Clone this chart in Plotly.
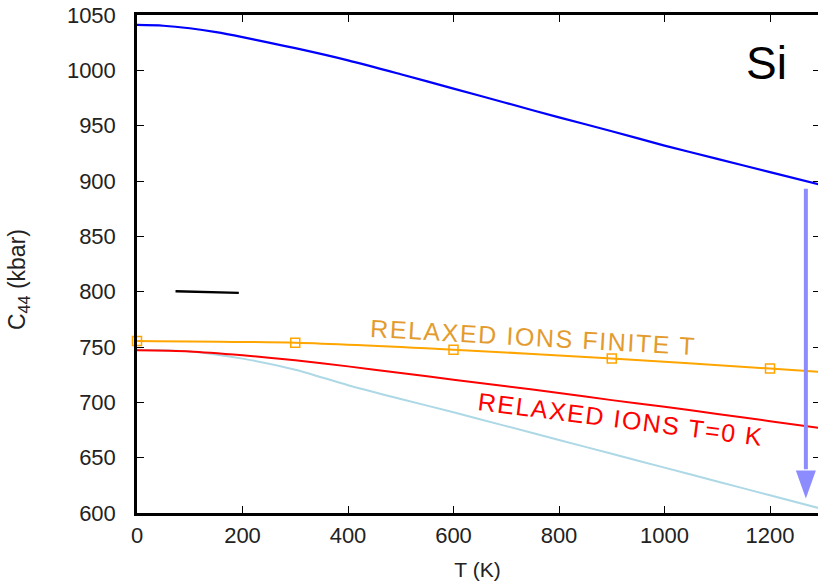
import plotly.graph_objects as go

# ---- data ----
T_blue = [0, 50, 100, 150, 200, 250, 300, 400, 500, 600, 700, 800, 900, 1000, 1100, 1200, 1300]
C44_blue = [1041, 1040.3, 1038, 1034.5, 1030, 1025, 1020, 1009, 996.5, 983.5, 970.5, 957.5, 945, 932, 920, 908, 896]

T_curve = [0, 100, 200, 300, 400, 500, 600, 700, 800, 900, 1000, 1100, 1200, 1300]
C44_red = [747, 746, 742.5, 738, 732.5, 726.5, 720.5, 714.5, 708.5, 702, 696, 689.5, 683, 676.5]
C44_lightblue = [747.5, 746, 739.5, 729.5, 715.5, 703, 691, 678.5, 666, 653.5, 641, 628.5, 616, 603.5]

T_orange = [0, 300, 600, 900, 1200, 1300]
C44_orange = [755.5, 753.8, 747.6, 739.6, 730.5, 727.4]
T_orange_pts = [0, 300, 600, 900, 1200]
C44_orange_pts = [755.5, 753.8, 747.6, 739.6, 730.5]

T_key = [73, 193]
C44_key = [800.4, 798.9]

x_ticks = [0, 200, 400, 600, 800, 1000, 1200]
y_ticks = [600, 650, 700, 750, 800, 850, 900, 950, 1000, 1050]

arrow_x = 1268
arrow_y_start = 893
arrow_y_tip = 613
arrow_head_base = 638.5

label_orange = "RELAXED IONS FINITE T"
label_red = "RELAXED IONS T=0 K"
label_si = "Si"

# ---- layout geometry ----
W, H = 818, 588
ML, MR, MT, MB = 137, 0, 15, 75
XR = [0, 1291]
YR = [600, 1050]
px_per_x = (W - ML - MR) / (XR[1] - XR[0])

FONT = "Liberation Sans, Arial, sans-serif"

fig = go.Figure()
fig.add_trace(go.Scatter(x=T_curve, y=C44_lightblue, mode="lines",
                         line=dict(color="#add8e6", width=2, shape="spline", smoothing=0.8),
                         hoverinfo="skip"))
fig.add_trace(go.Scatter(x=T_curve, y=C44_red, mode="lines",
                         line=dict(color="#ff0000", width=2, shape="spline", smoothing=0.8),
                         hoverinfo="skip"))
fig.add_trace(go.Scatter(x=T_orange, y=C44_orange, mode="lines",
                         line=dict(color="#ffa500", width=2, shape="spline", smoothing=0.6),
                         hoverinfo="skip"))
fig.add_trace(go.Scatter(x=T_orange_pts, y=C44_orange_pts, mode="markers",
                         marker=dict(symbol="square-open", size=9, color="#ffa500",
                                     line=dict(width=1.5, color="#ffa500")),
                         cliponaxis=False, hoverinfo="skip"))
fig.add_trace(go.Scatter(x=T_blue, y=C44_blue, mode="lines",
                         line=dict(color="#0000ff", width=2.2, shape="spline", smoothing=0.8),
                         hoverinfo="skip"))
fig.add_trace(go.Scatter(x=T_key, y=C44_key, mode="lines",
                         line=dict(color="#000000", width=2.4), hoverinfo="skip"))
# invisible trace for right mirror ticks
fig.add_trace(go.Scatter(x=[None], y=[None], yaxis="y2", showlegend=False, hoverinfo="skip"))

# arrow (shaft + head)
half_w = 10 / px_per_x
fig.add_shape(type="line", x0=arrow_x, x1=arrow_x, y0=arrow_y_start, y1=arrow_head_base + 1,
              line=dict(color="#8c8cff", width=4), layer="above")
fig.add_shape(type="path",
              path=f"M {arrow_x - half_w},{arrow_head_base} L {arrow_x + half_w},{arrow_head_base} L {arrow_x},{arrow_y_tip} Z",
              fillcolor="#8c8cff", line=dict(color="#8c8cff", width=0), layer="above")

fig.add_annotation(x=751, y=758.8, text=f'<span style="letter-spacing:1.6px">{label_orange}</span>',
                   showarrow=False, textangle=3.2,
                   font=dict(family=FONT, size=25, color="#e39b2e"))
fig.add_annotation(x=917, y=684.7, text=f'<span style="letter-spacing:1.6px">{label_red}</span>',
                   showarrow=False, textangle=7.2,
                   font=dict(family=FONT, size=25, color="#ff0000"))
fig.add_annotation(x=1194, y=1007, text=label_si, showarrow=False,
                   font=dict(family=FONT, size=46, color="#000000"))
# y-axis title
fig.add_annotation(xref="paper", yref="paper", x=-(ML - 18) / (W - ML - MR), y=(H - MB - 280) / (H - MT - MB),
                   text="C<sub>44</sub> (kbar)", showarrow=False, textangle=-90,
                   xanchor="center", yanchor="middle",
                   font=dict(family=FONT, size=23, color="#222222"))

fig.update_layout(
    width=W, height=H,
    margin=dict(l=ML, r=MR, t=MT, b=MB, pad=0),
    paper_bgcolor="white", plot_bgcolor="white",
    showlegend=False,
    font=dict(family=FONT, color="#222222"),
    xaxis=dict(range=XR, tickvals=x_ticks, ticks="inside", ticklen=7, tickwidth=1,
               tickcolor="#000", showline=True, linecolor="#000", linewidth=2.5,
               mirror="ticks", showgrid=False, zeroline=False,
               tickfont=dict(family=FONT, size=22, color="#222222"),
               ticklabelstandoff=1,
               title=dict(text="T (K)", font=dict(family=FONT, size=21, color="#222222"), standoff=16)),
    yaxis=dict(range=YR, tickvals=y_ticks, ticks="inside", ticklen=7, tickwidth=1,
               tickcolor="#000", showline=True, linecolor="#000", linewidth=2.5,
               mirror=False, showgrid=False, zeroline=False,
               tickfont=dict(family=FONT, size=22, color="#222222"),
               ticklabelstandoff=14),
    yaxis2=dict(range=YR, tickvals=y_ticks, overlaying="y", side="right", ticks="inside",
                ticklen=5, tickwidth=1, tickcolor="#000", showline=False,
                showticklabels=False, showgrid=False, zeroline=False),
)

fig.write_html("out.html")
